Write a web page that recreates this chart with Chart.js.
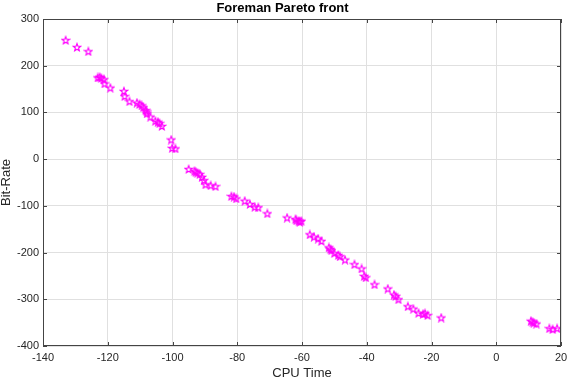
<!DOCTYPE html>
<html>
<head>
<meta charset="utf-8">
<script src="https://cdn.jsdelivr.net/npm/chart.js@4"></script>
<style>
  html, body { margin: 0; padding: 0; background: #fff; }
  #wrap { width: 567px; height: 382px; }
</style>
</head>
<body>
<div id="wrap"><canvas id="paretoChart" width="567" height="382"></canvas></div>
<script>
  // values
  const cpuTime = [
    -133, -129.5, -126, -123.1, -122.5, -122, -121.2, -121, -119.2, -115, -114.8,
    -113.3, -111, -110.2, -109.5, -109, -108.3, -108, -107.9, -106.8, -105.3, -104.5,
    -104, -103.3, -100.4, -100.1, -99.1, -95, -93.2, -92.8, -92.3, -91.6, -90.9,
    -90.3, -89.8, -88.2, -86.7, -81.8, -81, -80.3, -77.7, -76.1, -74.6, -73.5,
    -70.7, -64.6, -62, -61.7, -61, -60.7, -60.2, -57.6, -56.3, -55, -54, -51.7,
    -51.2, -50.9, -50, -48.8, -48.3, -46.7, -43.8, -41.6, -40.8, -40.3, -37.6,
    -33.5, -31.6, -31.1, -30.2, -27.3, -25.6, -24, -22.6, -22, -21.2, -17,
    10.7, 11.2, 11.6, 12.4, 16.4, 17.4, 18.8
  ];
  const bitRate = [
    255, 240, 231, 175, 176, 174, 171, 162, 153, 146, 135,
    124, 121, 118, 115, 111, 105, 102, 98, 91, 82, 80,
    77, 71, 42, 24, 23, -21, -25, -27, -29, -32, -38,
    -45, -54, -56, -58, -79, -80, -84, -89, -96, -102, -103,
    -116, -125, -128, -131, -132, -134, -132, -161, -166, -170, -175, -189,
    -192, -195, -201, -205, -208, -215, -225, -234, -250, -253, -268,
    -277, -290, -293, -300, -315, -320, -329, -331, -330, -334, -339,
    -346, -348, -350, -352, -362, -364, -362
  ];
  const xTicks = [-140, -120, -100, -80, -60, -40, -20, 0, 20];
  const yTicks = [-400, -300, -200, -100, 0, 100, 200, 300];

  // pentagram marker like matlab 'p'
  const makeStar = (size, color) => {
    const c = document.createElement('canvas');
    c.width = size; c.height = size;
    const g = c.getContext('2d');
    const cx = size / 2, cy = size / 2 + 0.5;
    const ro = size / 2 - 1, ri = ro * 0.42;
    g.beginPath();
    for (let i = 0; i < 10; i++) {
      const r = i % 2 === 0 ? ro : ri;
      const a = -Math.PI / 2 + i * Math.PI / 5;
      const px = cx + r * Math.cos(a), py = cy + r * Math.sin(a);
      if (i === 0) g.moveTo(px, py); else g.lineTo(px, py);
    }
    g.closePath();
    g.strokeStyle = color;
    g.lineWidth = 1.1;
    g.stroke();
    return c;
  };
  const starImg = makeStar(10, '#ff00ff');

  const txtColor = '#262626';
  const boxColor = '#444444';

  // box around plot + inward tick marks
  const boxPlugin = {
    id: 'boxPlugin',
    afterDraw(chart) {
      const { ctx, chartArea: a, scales } = chart;
      ctx.save();
      ctx.strokeStyle = boxColor;
      ctx.lineWidth = 1;
      ctx.strokeRect(a.left + 0.5, a.top + 0.5, a.right - a.left - 1, a.bottom - a.top - 1);
      ctx.beginPath();
      xTicks.forEach((v) => {
        const px = Math.round(scales.x.getPixelForValue(v)) + 0.5;
        ctx.moveTo(px, a.bottom); ctx.lineTo(px, a.bottom - 4);
        ctx.moveTo(px, a.top); ctx.lineTo(px, a.top + 4);
      });
      yTicks.forEach((v) => {
        const py = Math.round(scales.y.getPixelForValue(v)) + 0.5;
        ctx.moveTo(a.left, py); ctx.lineTo(a.left + 4, py);
        ctx.moveTo(a.right, py); ctx.lineTo(a.right - 4, py);
      });
      ctx.stroke();
      ctx.restore();
    },
  };

  const points = cpuTime.map((x, i) => ({ x: x, y: bitRate[i] }));

  new Chart(document.getElementById('paretoChart'), {
    type: 'scatter',
    data: {
      datasets: [{
        label: 'Pareto front',
        data: points,
        pointStyle: starImg,
        pointRadius: 5,
        borderColor: '#ff00ff',
        backgroundColor: 'rgba(0,0,0,0)',
      }],
    },
    options: {
      responsive: false,
      animation: false,
      layout: { padding: { left: -1, right: 1, top: 0, bottom: 0 } },
      plugins: {
        legend: { display: false },
        tooltip: { enabled: false },
        title: {
          display: true,
          text: 'Foreman Pareto front',
          color: '#000',
          font: { family: 'Liberation Sans', size: 13, weight: 'bold' },
          padding: { top: 1, bottom: 2.4 },
        },
      },
      scales: {
        x: {
          type: 'linear',
          min: -140,
          max: 20,
          afterBuildTicks: (s) => { s.ticks = xTicks.map((v) => ({ value: v })); },
          afterFit: (s) => { s.height = 36; s.paddingRight = 6; },
          grid: { color: '#e0e0e0', drawTicks: false },
          border: { display: false },
          ticks: {
            color: txtColor,
            padding: 5,
            maxRotation: 0,
            font: { family: 'Liberation Sans', size: 11 },
          },
          title: {
            display: true,
            text: 'CPU Time',
            color: txtColor,
            font: { family: 'Liberation Sans', size: 13 },
            padding: { top: 0, bottom: 1 },
          },
        },
        y: {
          type: 'linear',
          min: -400,
          max: 300,
          afterBuildTicks: (s) => { s.ticks = yTicks.map((v) => ({ value: v })); },
          afterFit: (s) => { s.width = 44; },
          grid: { color: '#e0e0e0', drawTicks: false },
          border: { display: false },
          ticks: {
            color: txtColor,
            padding: 4,
            font: { family: 'Liberation Sans', size: 11 },
          },
          title: {
            display: true,
            text: 'Bit-Rate',
            color: txtColor,
            font: { family: 'Liberation Sans', size: 13 },
            padding: { top: 0, bottom: 0 },
          },
        },
      },
    },
    plugins: [boxPlugin],
  });
</script>
</body>
</html>
